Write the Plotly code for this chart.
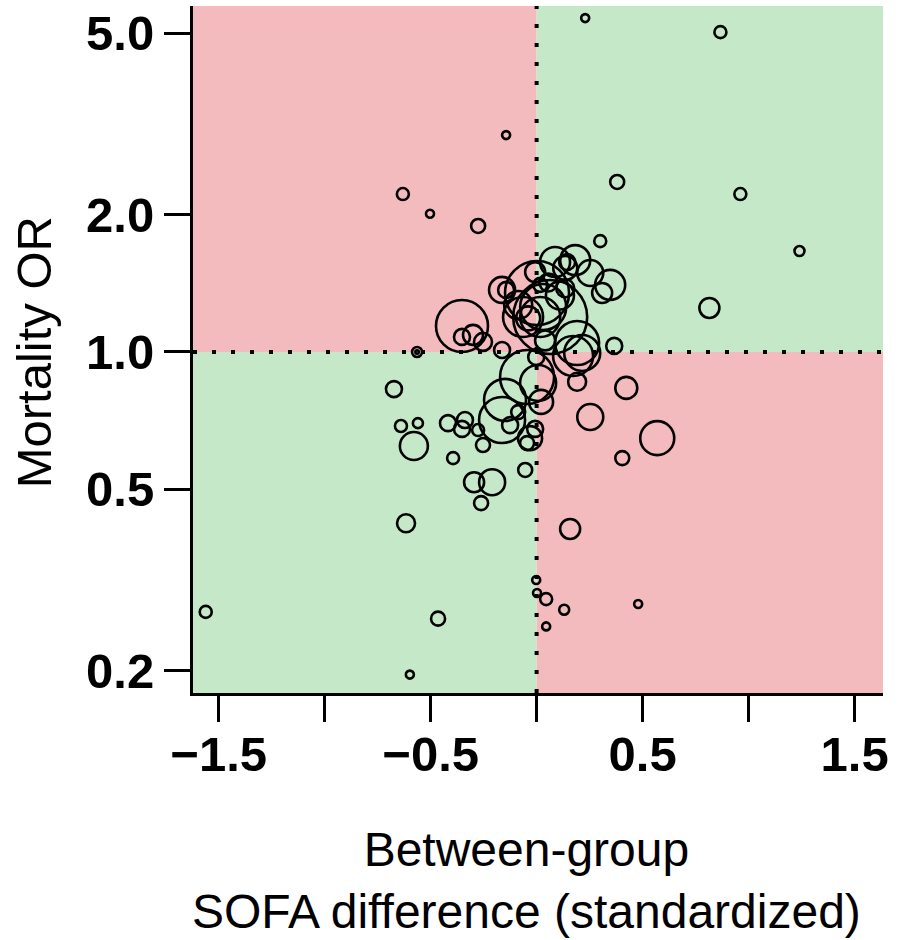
import math
import plotly.graph_objects as go

# study-level values: standardized between-group SOFA difference, mortality OR, relative weight
sofa_diff = [
    0.229, 0.867, -0.144, 0.380, -0.631, 0.961, -0.503, -0.276, 1.240, 0.300,
    0.815, 0.366, -0.564, -0.564, -0.673, 0.423, -0.640, -0.560, -0.579, 0.253,
    0.569, 0.404, -0.394, -0.295, -0.210, -0.262, -0.616, 0.158, -0.054, -0.002,
    0.002, 0.045, 0.130, 0.045, 0.479, -1.561, -0.465, -0.598,
    -0.418, -0.352, -0.338, -0.276, -0.253, -0.163, -0.149, -0.125, -0.087, -0.031,
    -0.007, -0.045,
    -0.002, -0.045, 0.007, 0.021, 0.191, 0.191, 0.172, -0.163,
    -0.352, -0.352, -0.300, -0.253, -0.163, -0.144,
    0.182, 0.253, 0.135, 0.144, 0.347, 0.309, 0.087, -0.007, 0.017,
    0.064, 0.031, 0.017, 0.215, -0.064, 0.002,
    -0.087, -0.040, 0.110, 0.040, 0.135, 0.055,
]
mortality_or = [
    5.40, 5.03, 2.99, 2.36, 2.22, 2.22, 2.01, 1.89, 1.665, 1.75,
    1.249, 1.031, 1.00, 1.00, 0.829, 0.834, 0.688, 0.698, 0.622, 0.720,
    0.647, 0.585, 0.585, 0.518, 0.518, 0.466, 0.421, 0.409, 0.551, 0.316,
    0.296, 0.287, 0.272, 0.250, 0.280, 0.269, 0.260, 0.196,
    0.698, 0.678, 0.709, 0.674, 0.625, 0.709, 0.785, 0.691, 0.738, 0.647,
    0.678, 0.631,
    0.975, 0.881, 0.855, 0.777, 0.860, 1.046, 0.980, 1.010,
    1.140, 1.079, 1.090, 1.052, 1.368, 1.368,
    1.590, 1.490, 1.528, 1.575, 1.403, 1.347, 1.575, 1.497, 1.403,
    1.193, 1.255, 1.193, 0.995, 1.193, 1.347,
    1.268, 1.185, 1.330, 1.060, 1.380, 1.420,
]
weight = [
    16, 36, 16, 49, 36, 36, 16, 49, 25, 36,
    100, 64, 25, 3, 64, 121, 36, 25, 196, 169,
    289, 49, 36, 100, 169, 49, 81, 100, 49, 16,
    16, 36, 25, 16, 16, 36, 49, 16,
    64, 64, 64, 36, 49, 529, 441, 64, 49, 144,
    64, 49,
    64, 729, 324, 144, 81, 484, 400, 64,
    676, 64, 100, 81, 169, 64,
    225, 169, 144, 64, 225, 100, 225, 100, 49,
    1369, 529, 400, 324, 400, 1024,
    196, 144, 196, 100, 81, 81,
]

x_ticks = [-1.5, -1.0, -0.5, 0.0, 0.5, 1.0, 1.5]
x_labels = ["\u22121.5", "", "\u22120.5", "", "0.5", "", "1.5"]
y_ticks = [0.2, 0.5, 1.0, 2.0, 5.0]
y_labels = ["0.2", "0.5", "1.0", "2.0", "5.0"]

x_min, x_max = -1.621, 1.634
y_min, y_max = 0.1786, 5.74

pink = "#F3BBBE"
green = "#C5E8C8"
max_diam = 74

fig = go.Figure()

fig.add_trace(
        go.Scatter(
            x=sofa_diff, y=mortality_or, mode="markers",
            marker=dict(
                size=weight, sizemode="area",
                sizeref=2.0 * max(weight) / max_diam ** 2,
                color="rgba(0,0,0,0)", opacity=1,
                line=dict(color="black", width=2.6)
            ),
            showlegend=False, hoverinfo="x+y"
        )
)

# quadrants: red where the sign of the SOFA difference disagrees with the OR
quads = [
    (x_min, 0, 1, y_max, pink),
    (0, x_max, 1, y_max, green),
    (x_min, 0, y_min, 1, green),
    (0, x_max, y_min, 1, pink),
]
for qx0, qx1, qy0, qy1, col in quads:
    fig.add_shape(type="rect", xref="x", yref="y", x0=qx0, x1=qx1, y0=qy0, y1=qy1,
                  fillcolor=col, line_width=0, layer="below")

fig.add_shape(type="line", xref="x", yref="y", x0=0, x1=0, y0=y_min, y1=y_max,
              line=dict(color="black", width=4, dash="4px,15px"), layer="below")
fig.add_shape(type="line", xref="x", yref="y", x0=x_min, x1=x_max, y0=1, y1=1,
              line=dict(color="black", width=4, dash="4px,15px"), layer="below")

fig.add_annotation(
        text="Between-group<br>SOFA difference (standardized)",
        xref="paper", yref="paper", x=0.483, y=-0.273,
        xanchor="center", yanchor="middle", showarrow=False,
        font=dict(family="Liberation Sans", size=48, color="black")
)
fig.add_annotation(
        text="Mortality OR", textangle=-90,
        xref="paper", yref="paper", x=-0.23, y=0.4964,
        xanchor="center", yanchor="middle", showarrow=False,
        font=dict(family="Liberation Sans", size=49, color="black")
)

fig.update_layout(
        width=905, height=940,
        margin=dict(l=193, r=22, t=6, b=247),
        paper_bgcolor="white", plot_bgcolor="white",
        font=dict(family="Liberation Sans", color="black"),
        xaxis=dict(
            range=[x_min, x_max], showgrid=False, zeroline=False,
            showline=True, linecolor="black", linewidth=3,
            ticks="outside", ticklen=26, tickwidth=3, tickcolor="black",
            tickmode="array", tickvals=x_ticks, ticktext=x_labels,
            ticklabelstandoff=-10,
            tickfont=dict(size=49, weight="bold", color="black")
        ),
        yaxis=dict(
            type="log", range=[math.log10(y_min), math.log10(y_max)],
            showgrid=False, zeroline=False,
            showline=True, linecolor="black", linewidth=3,
            ticks="outside", ticklen=26, tickwidth=3, tickcolor="black",
            tickmode="array", tickvals=y_ticks, ticktext=y_labels,
            tickfont=dict(size=49, weight="bold", color="black")
        )
)

fig.write_html("out.html", config={"displayModeBar": False},
               post_script="document.body.style.margin='0px';")
